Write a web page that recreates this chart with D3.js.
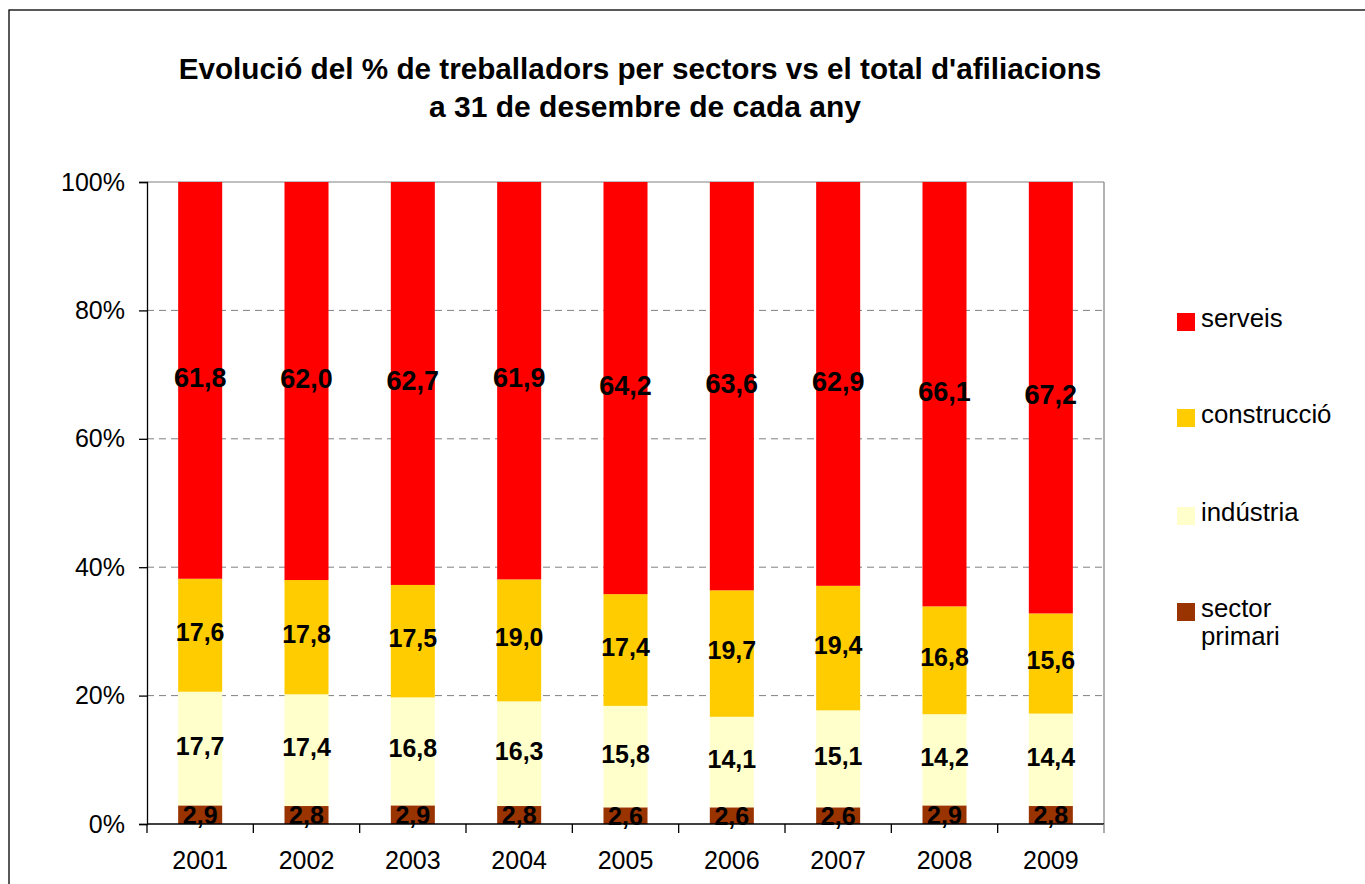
<!DOCTYPE html>
<html>
<head>
<meta charset="utf-8">
<script src="https://cdn.jsdelivr.net/npm/d3@7"></script>
<style>
  html, body { margin: 0; padding: 0; background: #fff; }
  svg { display: block; }
  text { font-family: "Liberation Sans", Arial, sans-serif; }
</style>
</head>
<body>
<svg id="chart" width="1365" height="884"></svg>
<script>
const years = ["2001","2002","2003","2004","2005","2006","2007","2008","2009"];
const sectorPrimari = [2.9, 2.8, 2.9, 2.8, 2.6, 2.6, 2.6, 2.9, 2.8];
const industria     = [17.7, 17.4, 16.8, 16.3, 15.8, 14.1, 15.1, 14.2, 14.4];
const construccio   = [17.6, 17.8, 17.5, 19.0, 17.4, 19.7, 19.4, 16.8, 15.6];
const serveis       = [61.8, 62.0, 62.7, 61.9, 64.2, 63.6, 62.9, 66.1, 67.2];
const seriesNames = ["sector primari", "indústria", "construcció", "serveis"];
const seriesColors = ["#993300", "#FFFFCC", "#FFCC00", "#FF0000"];
const yTicks = [0, 0.2, 0.4, 0.6, 0.8, 1.0];
const titleLines = ["Evolució del % de treballadors per sectors vs el total d'afiliacions",
                    "a 31 de desembre de cada any"];

const seriesValues = [sectorPrimari, industria, construccio, serveis];
const table = years.map((yr, i) => {
  const row = { year: yr };
  seriesNames.forEach((n, k) => row[n] = seriesValues[k][i]);
  return row;
});

const svg = d3.select("#chart");
const pLeft = 147, pRight = 1104, pTop = 182, pBottom = 824;

// outer frame
svg.append("rect").attr("x", 9).attr("y", 10).attr("width", 1400).attr("height", 900)
  .attr("fill", "none").attr("stroke", "#000").attr("stroke-width", 1.3);

// title
svg.append("text").attr("x", 640).attr("y", 79).attr("text-anchor", "middle")
  .attr("font-size", 29.7).attr("font-weight", "bold").text(titleLines[0]);
svg.append("text").attr("x", 645).attr("y", 117).attr("text-anchor", "middle")
  .attr("font-size", 30).attr("font-weight", "bold").text(titleLines[1]);

const x = d3.scaleBand().domain(years).range([pLeft, pRight]).paddingInner(0.586).paddingOuter(0.293);
const y = d3.scaleLinear().domain([0, 1]).range([pBottom, pTop]);

const stack = d3.stack().keys(seriesNames).offset(d3.stackOffsetExpand);
const stacked = stack(table);

// gridlines
svg.append("g").selectAll("line").data(yTicks.filter(t => t > 0 && t < 1)).join("line")
  .attr("x1", pLeft).attr("x2", pRight).attr("y1", d => y(d)).attr("y2", d => y(d))
  .attr("stroke", "#808080").attr("stroke-width", 1).attr("stroke-dasharray", "7,5");

// plot border top & right
svg.append("line").attr("x1", pLeft).attr("x2", pRight).attr("y1", y(1)).attr("y2", y(1))
  .attr("stroke", "#808080").attr("stroke-width", 1.2);
svg.append("line").attr("x1", pRight).attr("x2", pRight).attr("y1", y(1)).attr("y2", pBottom)
  .attr("stroke", "#808080").attr("stroke-width", 1.2);

// bars
const groups = svg.append("g").selectAll("g").data(stacked).join("g")
  .attr("fill", (d, i) => seriesColors[i]);
groups.selectAll("rect").data(d => d).join("rect")
  .attr("x", d => x(d.data.year))
  .attr("width", x.bandwidth())
  .attr("y", d => y(d[1]))
  .attr("height", d => y(d[0]) - y(d[1]));

// data labels
stacked.forEach((s, k) => {
  const fs = k === 3 ? 27 : 25;
  svg.append("g").selectAll("text").data(s).join("text")
    .attr("x", d => x(d.data.year) + x.bandwidth() / 2)
    .attr("y", d => (y(d[0]) + y(d[1])) / 2 + fs * 0.358 - (k === 0 ? 0 : 3))
    .attr("text-anchor", "middle")
    .attr("font-size", fs).attr("font-weight", "bold").attr("fill", "#000")
    .text(d => d3.format(".1f")(d.data[s.key]).replace(".", ","));
});

// y axis
const yAxis = svg.append("g").attr("transform", `translate(${pLeft},0)`)
  .call(d3.axisLeft(y).tickValues(yTicks).tickSize(8).tickPadding(14)
    .tickFormat(d => Math.round(d * 100) + "%"));
yAxis.select(".domain").attr("stroke", "#000").attr("stroke-width", 1.3);
yAxis.selectAll(".tick line").attr("stroke", "#000").attr("stroke-width", 1.3);
yAxis.selectAll(".tick text").attr("font-size", 25).attr("fill", "#000")
  .attr("font-family", "'Liberation Sans', Arial, sans-serif");

// x axis
const xAxis = svg.append("g").attr("transform", `translate(0,${pBottom})`)
  .call(d3.axisBottom(x).tickSize(0).tickPadding(27));
xAxis.select(".domain").remove();
xAxis.selectAll(".tick text").attr("font-size", 25).attr("fill", "#000")
  .attr("font-family", "'Liberation Sans', Arial, sans-serif");
svg.append("line").attr("x1", pLeft).attr("x2", pRight).attr("y1", pBottom).attr("y2", pBottom)
  .attr("stroke", "#000").attr("stroke-width", 1.3);
const half = (x.step() - x.bandwidth()) / 2;
const bounds = years.map(d => x(d) - half).concat([x(years[years.length - 1]) + x.bandwidth() + half]);
svg.append("g").selectAll("line").data(bounds).join("line")
  .attr("x1", d => d).attr("x2", d => d).attr("y1", pBottom).attr("y2", pBottom + 9)
  .attr("stroke", (d, i) => i === bounds.length - 1 ? "#808080" : "#000").attr("stroke-width", 1.3);

// legend
const legendOrder = [3, 2, 1, 0];
const legendY = [322, 418, 516, 612];
const lg = svg.append("g");
legendOrder.forEach((k, j) => {
  lg.append("rect").attr("x", 1177).attr("y", legendY[j] - 9).attr("width", 18).attr("height", 18)
    .attr("fill", seriesColors[k]);
  const words = seriesNames[k] === "sector primari" ? ["sector", "primari"] : [seriesNames[k]];
  const t = lg.append("text").attr("x", 1201).attr("y", legendY[j] + 5).attr("font-size", 25.8).attr("fill", "#000");
  words.forEach((w, wi) => t.append("tspan").attr("x", 1201).attr("dy", wi === 0 ? 0 : 28).text(w));
});
</script>
</body>
</html>
